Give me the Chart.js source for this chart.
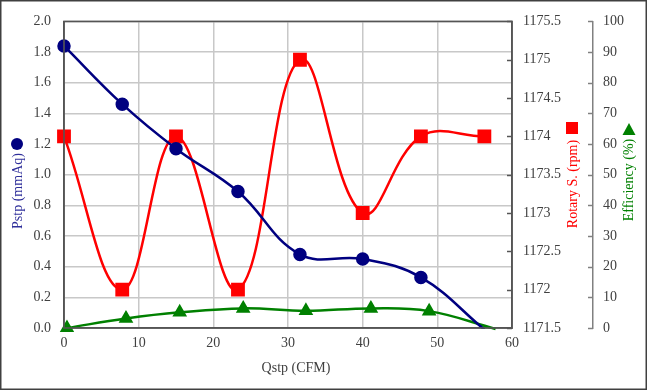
<!DOCTYPE html>
<html>
<head>
<meta charset="utf-8">
<script src="https://cdn.jsdelivr.net/npm/chart.js@4"></script>
<style>
  body { margin: 0; background: #fff; }
  canvas { display: block; }
</style>
</head>
<body>
<canvas id="fanChart" width="647" height="390"></canvas>
<script>
// Data
const qstp = [0, 7.8, 15.0, 23.3, 31.6, 40.0, 47.8, 56.3];
const pstp = [1.84, 1.46, 1.17, 0.89, 0.48, 0.45, 0.33, -0.01];
const rotary = [1174, 1172, 1174, 1172, 1175, 1173, 1174, 1174];
const qEff = [0.4, 8.3, 15.5, 24.0, 32.4, 41.1, 48.9, 57.8];
const efficiency = [0, 3.1, 5.1, 6.4, 5.6, 6.4, 5.5, -0.3];

// Tick labels
const qTicks = [0, 10, 20, 30, 40, 50, 60];
const pstpTicks = [0, 0.2, 0.4, 0.6, 0.8, 1.0, 1.2, 1.4, 1.6, 1.8, 2.0];
const rotaryTicks = [1171.5, 1172, 1172.5, 1173, 1173.5, 1174, 1174.5, 1175, 1175.5];
const effTicks = [0, 10, 20, 30, 40, 50, 60, 70, 80, 90, 100];

const FONT = '"Liberation Serif", "Times New Roman", serif';
const NAVY = "#000080";
const RED = "#ff0000";
const GREEN = "#008000";
const AXIS = "#555555";
const GRID = "#c8c8c8";

const pts = (xs, ys) => xs.map((x, i) => ({ x: x, y: ys[i] }));
const fixTicks = arr => scale => { scale.ticks = arr.map(v => ({ value: v })); };
const tickFont = { family: FONT, size: 14 };

// titles, legend markers, inward tick marks and frames
const decorations = {
  id: "decorations",
  afterDraw(chart) {
    const ctx = chart.ctx;
    const a = chart.chartArea;
    ctx.save();

    // inward tick marks on the two right axes
    [["yRot", AXIS], ["yEff", "#808080"]].forEach(([id, col]) => {
      const s = chart.scales[id];
      const x = id === "yRot" ? a.right : s.left;
      ctx.strokeStyle = col;
      ctx.lineWidth = 1.5;
      s.ticks.forEach((t, i) => {
        const y = Math.round(s.getPixelForTick(i)) + 0.5;
        ctx.beginPath();
        ctx.moveTo(x - 5, y);
        ctx.lineTo(x, y);
        ctx.stroke();
      });
    });

    // plot frame
    ctx.strokeStyle = AXIS;
    ctx.lineWidth = 1.6;
    ctx.strokeRect(a.left, a.top, a.right - a.left, a.bottom - a.top);

    ctx.font = "14px " + FONT;
    ctx.textAlign = "center";
    ctx.textBaseline = "middle";

    // x title
    ctx.fillStyle = "#404040";
    ctx.fillText("Qstp (CFM)", 296, 368);

    const vText = (txt, x, y, col) => {
      ctx.save();
      ctx.translate(x, y);
      ctx.rotate(-Math.PI / 2);
      ctx.fillStyle = col;
      ctx.fillText(txt, 0, 0);
      ctx.restore();
    };

    // left title with circle
    vText("Pstp (mmAq)", 18, 191, "#2e2e9a");
    ctx.fillStyle = NAVY;
    ctx.beginPath();
    ctx.arc(17, 144, 6, 0, Math.PI * 2);
    ctx.fill();

    // rotary title with square
    vText("Rotary S. (rpm)", 573, 184, RED);
    ctx.fillStyle = RED;
    ctx.fillRect(566, 122, 12, 12);

    // efficiency title with triangle
    vText("Efficiency (%)", 629, 180, GREEN);
    ctx.fillStyle = GREEN;
    ctx.beginPath();
    ctx.moveTo(629, 123);
    ctx.lineTo(635.5, 135);
    ctx.lineTo(622.5, 135);
    ctx.closePath();
    ctx.fill();

    // outer border
    ctx.strokeStyle = "#404040";
    ctx.lineWidth = 1.5;
    ctx.strokeRect(0.75, 0.75, chart.width - 1.5, chart.height - 1.5);
    ctx.restore();
  }
};

new Chart(document.getElementById("fanChart"), {
  type: "scatter",
  data: {
    datasets: [
      {
        label: "Pstp",
        data: pts(qstp, pstp),
        yAxisID: "y",
        showLine: true,
        borderColor: NAVY,
        backgroundColor: NAVY,
        borderWidth: 2.5,
        pointRadius: [5.5, 5.5, 5.5, 5.5, 5.5, 5.5, 5.5, 0],
        pointStyle: "circle",
        tension: 0.4,
        clip: { left: 10, top: 10, right: 10, bottom: 1 }
      },
      {
        label: "Rotary S.",
        data: pts(qstp, rotary),
        yAxisID: "yRot",
        showLine: true,
        borderColor: RED,
        backgroundColor: RED,
        borderWidth: 2.5,
        pointRadius: 8,
        pointStyle: "rect",
        tension: 0.4,
        clip: { left: 10, top: 10, right: 10, bottom: 10 }
      },
      {
        label: "Efficiency",
        data: pts(qEff, efficiency),
        yAxisID: "yEff",
        showLine: true,
        borderColor: GREEN,
        backgroundColor: GREEN,
        borderWidth: 2.5,
        pointRadius: [6, 6, 6, 6, 6, 6, 6, 0],
        pointStyle: "triangle",
        tension: 0.4,
        clip: { left: 10, top: 10, right: 10, bottom: 4 }
      }
    ]
  },
  options: {
    responsive: false,
    animation: false,
    layout: { padding: { top: 19, left: 0, right: 0, bottom: 0 } },
    plugins: {
      legend: { display: false },
      tooltip: { enabled: false }
    },
    scales: {
      x: {
        type: "linear",
        min: 0,
        max: 60,
        afterBuildTicks: fixTicks(qTicks),
        afterFit: s => { s.height = 62; },
        grid: { color: GRID, lineWidth: 1.5, drawTicks: false },
        border: { color: AXIS, width: 1.6 },
        ticks: { color: "#404040", font: tickFont, padding: 7 }
      },
      y: {
        position: "left",
        min: 0,
        max: 2,
        afterBuildTicks: fixTicks(pstpTicks),
        afterFit: s => { s.width = 64; },
        grid: { color: GRID, lineWidth: 1.5, drawTicks: false },
        border: { color: AXIS, width: 1.6 },
        ticks: { color: "#404040", font: tickFont, padding: 13, callback: v => v.toFixed(1) }
      },
      yRot: {
        position: "right",
        min: 1171.5,
        max: 1175.5,
        afterBuildTicks: fixTicks(rotaryTicks),
        afterFit: s => { s.width = 81; },
        grid: { display: false, drawOnChartArea: false },
        border: { color: AXIS, width: 1.6 },
        ticks: { color: "#404040", font: tickFont, padding: 3, callback: v => String(v) }
      },
      yEff: {
        position: "right",
        min: 0,
        max: 100,
        afterBuildTicks: fixTicks(effTicks),
        afterFit: s => { s.width = 54; },
        grid: { display: false, drawOnChartArea: false },
        border: { color: "#808080", width: 1.5 },
        ticks: { color: "#404040", font: tickFont, padding: 2 }
      }
    }
  },
  plugins: [decorations]
});
</script>
</body>
</html>
